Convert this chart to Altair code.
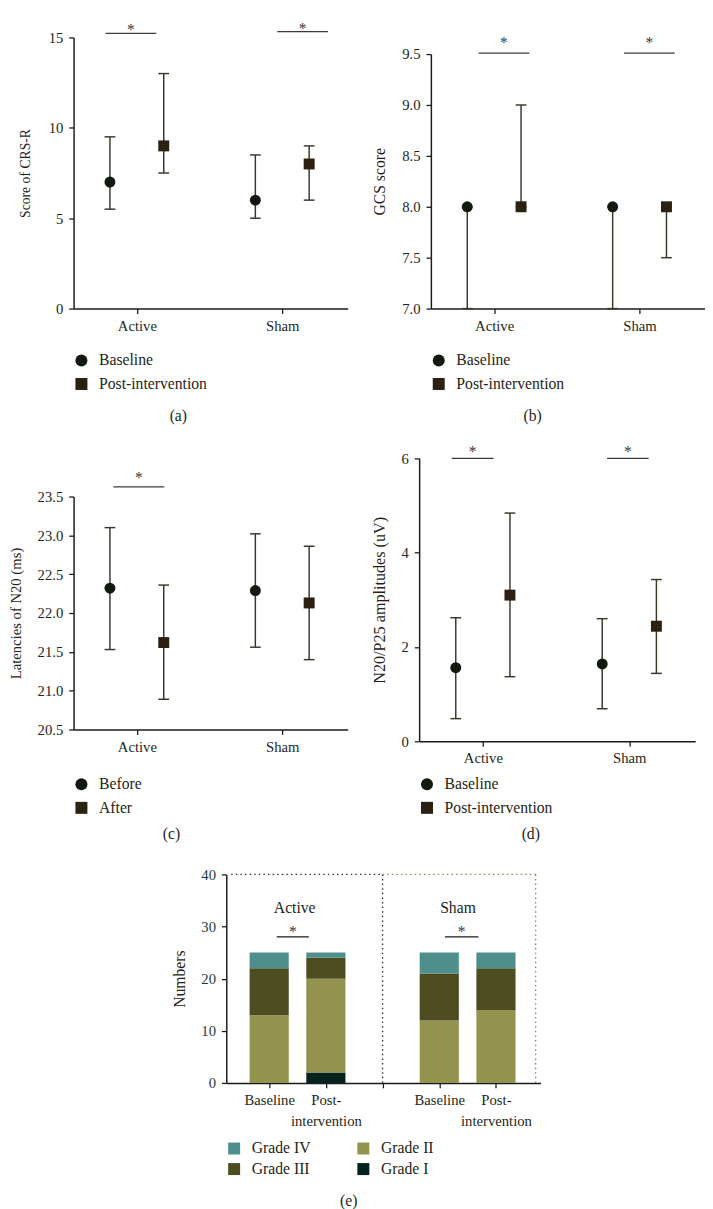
import json
import altair as alt
import pandas as pd

FONT = "Liberation Serif"
INK = "#231f20"
AXIS = "#1b1b1b"
ERR = "#3b382a"
SIG = "#3a3a3a"
C_BASE = "#121a10"
C_POST = "#2b2011"

# ---------------- data ----------------
groups = ["Active", "Sham"]
group_idx = [0, 0, 1, 1]
cond_idx = [0, 1, 0, 1]

# (a) CRS-R
a_conds = ["Baseline", "Post-intervention"]
a_mid = [7.0, 9.0, 6.0, 8.0]
a_lo = [5.5, 7.5, 5.0, 6.0]
a_hi = [9.5, 13.0, 8.5, 9.0]
a_ticks = [0, 5, 10, 15]
a_sig_x1 = [-0.215, 0.966]
a_sig_x2 = [0.134, 1.315]
a_sig_y = [15.22, 15.32]
a_star_y = [15.62, 15.66]

# (b) GCS
b_conds = ["Baseline", "Post-intervention"]
b_mid = [8.0, 8.0, 8.0, 8.0]
b_lo = [7.0, 8.0, 7.0, 7.5]
b_hi = [8.0, 9.0, 8.0, 8.0]
b_ticks = [7.0, 7.5, 8.0, 8.5, 9.0, 9.5]
b_sig_x1 = [-0.107, 0.893]
b_sig_x2 = [0.242, 1.242]
b_sig_y = [9.51, 9.51]
b_star_y = [9.645, 9.645]

# (c) latencies
c_conds = ["Before", "After"]
c_mid = [22.32, 21.62, 22.29, 22.13]
c_lo = [21.53, 20.89, 21.56, 21.40]
c_hi = [23.10, 22.36, 23.02, 22.86]
c_ticks = [20.5, 21.0, 21.5, 22.0, 22.5, 23.0, 23.5]
c_sig_x1 = [-0.162]
c_sig_x2 = [0.189]
c_sig_y = [23.626]
c_star_y = [23.79]

# (d) amplitudes
d_conds = ["Baseline", "Post-intervention"]
d_mid = [1.56, 3.10, 1.64, 2.44]
d_lo = [0.48, 1.37, 0.69, 1.44]
d_hi = [2.62, 4.84, 2.60, 3.43]
d_ticks = [0, 2, 4, 6]
d_sig_x1 = [-0.212, 0.848]
d_sig_x2 = [0.073, 1.132]
d_sig_y = [6.0, 6.0]
d_star_y = [6.21, 6.21]

# (e) grades
e_slots = [0, 1, 3, 4]
grades = ["Grade I", "Grade II", "Grade III", "Grade IV"]
grade_I = [0, 2, 0, 0]
grade_II = [13, 18, 12, 14]
grade_III = [9, 4, 9, 8]
grade_IV = [3, 1, 4, 3]
e_tick_values = [0, 1, 2, 3, 4]
e_tick_labels = ["Baseline", ["Post-", "intervention"], "", "Baseline", ["Post-", "intervention"]]
e_group_labels = ["Active", "Sham"]
e_group_x = [0.45, 3.33]
e_group_y = [33.6, 33.6]
e_sig_x1 = [0.134, 3.10]
e_sig_x2 = [0.70, 3.69]
e_sig_y = [28.0, 28.0]
e_star_y = [29.7, 29.7]
e_xdom = [-0.67, 4.7]
e_frame_split = 2

legend_order = ["Grade IV", "Grade III", "Grade II", "Grade I"]
legend_colors = ["#4e8f8b", "#4e4d22", "#94924f", "#04231f"]

captions = ["(a)", "(b)", "(c)", "(d)", "(e)"]

# ---------------- helpers ----------------
DODGE = [-0.185, 0.185]
XDOM = [-0.435, 1.45]
IND = dict(color="independent", shape="independent")


def label_expr(labels):
    return json.dumps(labels) + "[datum.value]"


def star_layer(df, x, y):
    return alt.Chart(df).mark_text(font=FONT, fontSize=16, color=SIG,
                                   baseline="top", dy=-4).encode(x=x, y=y, text="t:N")


def dot_panel(conds, mid, lo, hi, ydom, yticks, yfmt, ytitle, title_size, title_pad, yrange,
              sx1, sx2, sy, stary, width, height, caption, cap_x, cap_y, leg_y):
    df = pd.DataFrame({
        "group": [groups[g] for g in group_idx],
        "cond": [conds[c] for c in cond_idx],
        "pos": [g + DODGE[c] for g, c in zip(group_idx, cond_idx)],
        "mid": mid, "lo": lo, "hi": hi,
    })
    sig = pd.DataFrame({
        "pos": sx1, "pos2": sx2, "mid": sy, "star": stary,
        "cx": [(p + q) / 2 for p, q in zip(sx1, sx2)],
        "t": ["*"] * len(sx1),
    })
    xs = alt.Scale(domain=XDOM, nice=False, zero=False)
    if yrange is None:
        ys = alt.Scale(domain=ydom, nice=False, zero=False)
    else:
        ys = alt.Scale(domain=ydom, range=yrange, nice=False, zero=False)
    xax = alt.Axis(values=[0, 1], labelExpr=label_expr(groups), title=None,
                   labelPadding=5, labelFlush=False)
    yax = alt.Axis(values=yticks, format=yfmt, title=ytitle, labelPadding=6,
                   titlePadding=title_pad, titleFontSize=title_size)
    base = alt.Chart(df)
    whisk = base.mark_rule(color=ERR, strokeWidth=1.5).encode(
        x=alt.X("pos:Q", scale=xs, axis=xax),
        y=alt.Y("lo:Q", scale=ys, axis=yax),
        y2="hi:Q")
    cap_lo = base.mark_tick(orient="horizontal", size=11, thickness=1.5, color=ERR,
                            opacity=1).encode(x="pos:Q", y="lo:Q")
    cap_hi = base.mark_tick(orient="horizontal", size=11, thickness=1.5, color=ERR,
                            opacity=1).encode(x="pos:Q", y="hi:Q")
    leg = alt.Legend(title=None, orient="none", legendX=0, legendY=leg_y,
                     direction="vertical", symbolSize=150, labelFontSize=16,
                     labelFont=FONT, labelColor=INK, rowPadding=8, labelOffset=10,
                     symbolStrokeWidth=0, padding=0)
    pts = base.mark_point(filled=True, opacity=1, size=125).encode(
        x="pos:Q", y="mid:Q",
        shape=alt.Shape("cond:N", scale=alt.Scale(domain=conds, range=["circle", "square"]), legend=leg),
        color=alt.Color("cond:N", scale=alt.Scale(domain=conds, range=[C_BASE, C_POST]), legend=leg))
    sig_rule = alt.Chart(sig).mark_rule(color=SIG, strokeWidth=1.3).encode(
        x="pos:Q", x2="pos2:Q", y="mid:Q")
    stars = star_layer(sig, "cx:Q", "star:Q")
    cap = alt.Chart(pd.DataFrame({"t": [caption]})).mark_text(
        font=FONT, fontSize=16, color=INK).encode(
        x=alt.value(cap_x), y=alt.value(cap_y), text="t:N")
    return alt.layer(whisk, cap_lo, cap_hi, pts, sig_rule, stars, cap).properties(
        width=width, height=height)


pa = dot_panel(a_conds, a_mid, a_lo, a_hi, [0, 15], a_ticks, "d", "Score of CRS-R", 14, 16, None,
               a_sig_x1, a_sig_x2, a_sig_y, a_star_y, 280, 277, captions[0], 107, 387, 322)
pb = dot_panel(b_conds, b_mid, b_lo, b_hi, [7, 9.5], b_ticks, ".1f", "GCS score", 16, 15, [277, 17],
               b_sig_x1, b_sig_x2, b_sig_y, b_star_y, 280, 277, captions[1], 104, 387, 322)
pc = dot_panel(c_conds, c_mid, c_lo, c_hi, [20.5, 23.5], c_ticks, ".1f", "Latencies of N20 (ms)", 15, 14,
               [277, 39], c_sig_x1, c_sig_x2, c_sig_y, c_star_y, 280, 277, captions[2], 100, 384, 325)
pd_ = dot_panel(d_conds, d_mid, d_lo, d_hi, [0, 6], d_ticks, "d", "N20/P25 amplitudes (uV)", 16.5, 14, None,
                d_sig_x1, d_sig_x2, d_sig_y, d_star_y, 282, 289, captions[3], 114, 384, 325)

# ---------------- panel e ----------------
rows = []
grade_counts = {"Grade I": grade_I, "Grade II": grade_II, "Grade III": grade_III, "Grade IV": grade_IV}
for i, slot in enumerate(e_slots):
    acc = 0
    for g in grades:
        n = grade_counts[g][i]
        rows.append({"slot": slot, "grade": g, "y0": acc, "y1": acc + n})
        acc += n
edf = pd.DataFrame(rows)
edf = edf[edf["y1"] > edf["y0"]]

exs = alt.Scale(domain=e_xdom, nice=False, zero=False)
eys = alt.Scale(domain=[0, 40], nice=False, zero=False)
e_xax = alt.Axis(values=e_tick_values, labelExpr=label_expr(e_tick_labels), title=None,
                 labelPadding=5, labelFlush=False, labelLineHeight=21, labelOverlap=False)
e_yax = alt.Axis(values=[0, 10, 20, 30, 40], title="Numbers", labelColor="#1e3a40",
                 labelPadding=6, titlePadding=14, titleFontSize=16)
e_leg = alt.Legend(title=None, orient="none", legendX=0, legendY=272, columns=2,
                   columnPadding=46, rowPadding=5, symbolType="square", symbolSize=150,
                   labelFontSize=16, labelFont=FONT, labelColor=INK, labelOffset=10,
                   symbolStrokeWidth=0, padding=0)
bars = alt.Chart(edf).mark_bar(size=40, strokeWidth=0).encode(
    x=alt.X("slot:Q", scale=exs, axis=e_xax),
    y=alt.Y("y0:Q", scale=eys, axis=e_yax),
    y2="y1:Q",
    color=alt.Color("grade:N", scale=alt.Scale(domain=legend_order, range=legend_colors), legend=e_leg))

frame_dark = pd.DataFrame({"slot": [e_xdom[0], e_frame_split], "x2": [e_frame_split, e_frame_split],
                           "y0": [40, 0], "y1": [40, 40]})
frame_olive = pd.DataFrame({"slot": [e_frame_split, e_xdom[1]], "x2": [e_xdom[1], e_xdom[1]],
                            "y0": [40, 0], "y1": [40, 40]})
f_dark = alt.Chart(frame_dark).mark_rule(color="#333333", strokeWidth=1.4, strokeDash=[1.5, 3.2]).encode(
    x="slot:Q", x2="x2:Q", y="y0:Q", y2="y1:Q")
f_olive = alt.Chart(frame_olive).mark_rule(color="#8d8b45", strokeWidth=1.4, strokeDash=[1.5, 3.2]).encode(
    x="slot:Q", x2="x2:Q", y="y0:Q", y2="y1:Q")

e_ann = pd.DataFrame({"slot": e_group_x, "y0": e_group_y, "t": e_group_labels})
e_glab = alt.Chart(e_ann).mark_text(font=FONT, fontSize=16, color=INK).encode(
    x="slot:Q", y="y0:Q", text="t:N")
e_sig = pd.DataFrame({"slot": e_sig_x1, "x2": e_sig_x2, "y0": e_sig_y, "star": e_star_y,
                      "cx": [(p + q) / 2 for p, q in zip(e_sig_x1, e_sig_x2)], "t": ["*"] * 2})
e_sig_rule = alt.Chart(e_sig).mark_rule(color=AXIS, strokeWidth=1.3).encode(
    x="slot:Q", x2="x2:Q", y="y0:Q")
e_stars = star_layer(e_sig, "cx:Q", "star:Q")
e_cap = alt.Chart(pd.DataFrame({"t": [captions[4]]})).mark_text(font=FONT, fontSize=16, color=INK).encode(
    x=alt.value(125), y=alt.value(334), text="t:N")

pe = alt.layer(bars, f_dark, f_olive, e_glab, e_sig_rule, e_stars, e_cap).properties(width=321, height=213)

spacer = alt.Chart(pd.DataFrame({"v": [0]})).mark_point(opacity=0).encode(
    x=alt.value(0), y=alt.value(0)).properties(width=156, height=1)

row1 = alt.hconcat(pa, pb, spacing=85, bounds="flush").resolve_scale(**IND).resolve_legend(**IND)
row2 = alt.hconcat(pc, pd_, spacing=73, bounds="flush").resolve_scale(**IND).resolve_legend(**IND)
row3 = alt.hconcat(spacer, pe, spacing=0, bounds="flush").resolve_scale(**IND).resolve_legend(**IND)

top = alt.vconcat(row1, row2, spacing=20).resolve_scale(**IND).resolve_legend(**IND)

chart = alt.vconcat(top, row3, spacing=26).resolve_scale(**IND).resolve_legend(**IND).properties(
    padding=0, background="white"
).configure(padding=0).configure_axis(
    labelFont=FONT, titleFont=FONT, labelFontSize=15, titleFontWeight="normal",
    labelColor=INK, titleColor=INK, domainColor=AXIS, tickColor=AXIS,
    domainWidth=1.5, tickWidth=1.3, tickSize=5, grid=False
).configure_view(stroke=None)

chart.save("out.html", embed_options={"renderer": "svg", "actions": False})
